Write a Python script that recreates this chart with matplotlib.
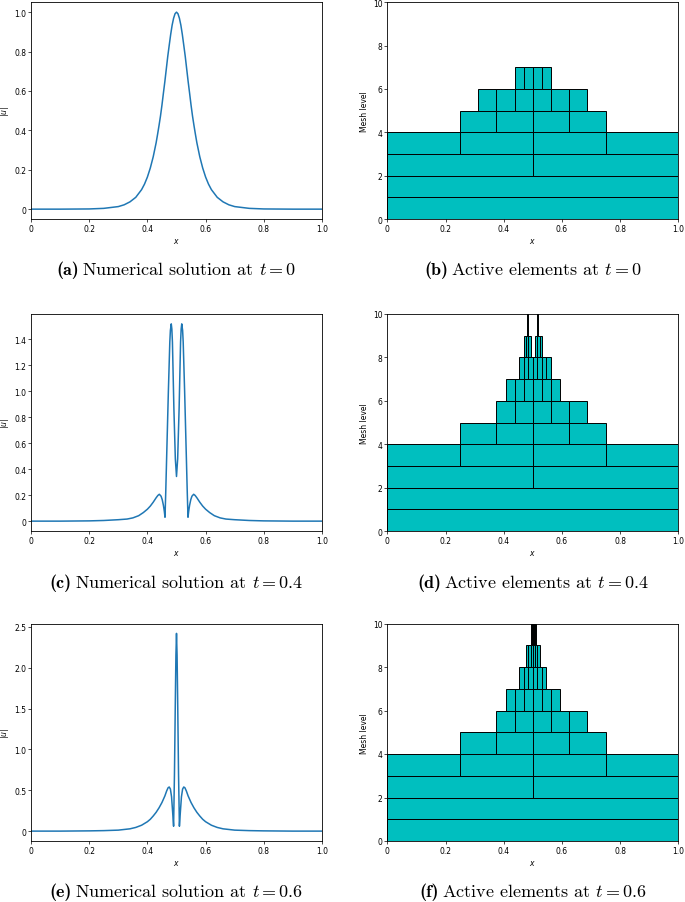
import numpy as np
import matplotlib.pyplot as plt
from matplotlib.ticker import FuncFormatter

# |u|
x_t0 = [0.0, 0.1, 0.2, 0.25, 0.3, 0.32, 0.34, 0.36, 0.38, 0.39, 0.40, 0.41, 0.42, 0.43, 0.435,
        0.44, 0.445, 0.45, 0.455, 0.46, 0.465, 0.47, 0.475, 0.48, 0.485, 0.49, 0.495, 0.5,
        0.505, 0.51, 0.515, 0.52, 0.525, 0.53, 0.535, 0.54, 0.545, 0.55, 0.555, 0.56, 0.565,
        0.57, 0.58, 0.59, 0.60, 0.61, 0.62, 0.64, 0.66, 0.68, 0.70, 0.75, 0.8, 0.9, 1.0]
u_t0 = [0.0, 0.0, 0.001, 0.004, 0.013, 0.022, 0.037, 0.060, 0.099, 0.127, 0.163, 0.209, 0.266, 0.337, 0.380,
        0.425, 0.473, 0.528, 0.589, 0.648, 0.712, 0.776, 0.832, 0.887, 0.934, 0.969, 0.992, 1.0,
        0.992, 0.969, 0.934, 0.887, 0.832, 0.776, 0.712, 0.648, 0.589, 0.528, 0.473, 0.425, 0.380,
        0.337, 0.266, 0.209, 0.163, 0.127, 0.099, 0.060, 0.037, 0.022, 0.013, 0.004, 0.001, 0.0, 0.0]

x_t04 = [0.0, 0.1, 0.2, 0.25, 0.3, 0.33, 0.35, 0.37, 0.386, 0.40, 0.41, 0.42, 0.43, 0.436, 0.441,
         0.447, 0.451, 0.455, 0.458, 0.4605, 0.463, 0.466, 0.472, 0.477, 0.479, 0.482, 0.484, 0.486,
         0.491, 0.496, 0.5,
         0.504, 0.509, 0.514, 0.516, 0.518, 0.521, 0.523, 0.528, 0.534, 0.537, 0.5395, 0.542, 0.545,
         0.549, 0.553, 0.559, 0.564, 0.57, 0.58, 0.59, 0.60, 0.614, 0.63, 0.65, 0.67, 0.70, 0.75,
         0.8, 0.9, 1.0]
u_t04 = [0.0, 0.0, 0.002, 0.005, 0.011, 0.016, 0.025, 0.042, 0.066, 0.092, 0.116, 0.146, 0.180, 0.198, 0.207,
         0.192, 0.165, 0.122, 0.078, 0.03, 0.22, 0.48, 0.995, 1.38, 1.47, 1.52, 1.48, 1.38,
         0.87, 0.48, 0.344,
         0.48, 0.87, 1.38, 1.48, 1.52, 1.47, 1.38, 0.995, 0.48, 0.22, 0.03, 0.078, 0.122,
         0.165, 0.192, 0.207, 0.198, 0.180, 0.146, 0.116, 0.092, 0.066, 0.042, 0.025, 0.016, 0.011, 0.005,
         0.002, 0.0, 0.0]

x_t06 = [0.0, 0.1, 0.2, 0.25, 0.3, 0.34, 0.36, 0.38, 0.40, 0.41, 0.42, 0.43, 0.44, 0.45, 0.46,
         0.466, 0.471, 0.475, 0.479, 0.483, 0.487, 0.490, 0.493, 0.496, 0.498, 0.5,
         0.502, 0.504, 0.507, 0.510, 0.513, 0.517, 0.521, 0.525, 0.529, 0.534, 0.54, 0.55, 0.56,
         0.57, 0.58, 0.59, 0.60, 0.62, 0.64, 0.66, 0.70, 0.75, 0.8, 0.9, 1.0]
u_t06 = [0.0, 0.0, 0.003, 0.006, 0.012, 0.028, 0.045, 0.072, 0.115, 0.145, 0.185, 0.23, 0.285, 0.35, 0.43,
         0.49, 0.53, 0.54, 0.515, 0.42, 0.22, 0.06, 0.70, 1.60, 2.15, 2.42,
         2.15, 1.60, 0.70, 0.06, 0.22, 0.42, 0.515, 0.54, 0.53, 0.49, 0.43, 0.35, 0.285,
         0.23, 0.185, 0.145, 0.115, 0.072, 0.045, 0.028, 0.012, 0.006, 0.003, 0.0, 0.0]

# active elements: (band, first index, count); band k has width 2**-(k-1), band 0 width 1
mesh_t0 = [(0, 0, 1), (1, 0, 1), (2, 0, 2), (3, 0, 4), (4, 2, 4), (5, 5, 6), (6, 14, 4)]
mesh_t04 = [(0, 0, 1), (1, 0, 1), (2, 0, 2), (3, 0, 4), (4, 2, 4), (5, 6, 5), (6, 13, 6),
            (7, 29, 7), (8, 60, 3), (8, 65, 3), (9, 123, 1), (9, 132, 1)]
mesh_t06 = [(0, 0, 1), (1, 0, 1), (2, 0, 2), (3, 0, 4), (4, 2, 4), (5, 6, 5), (6, 13, 6),
            (7, 29, 6), (8, 61, 6), (9, 126, 5)]

tags_left = ['(a)', '(c)', '(e)']
tags_right = ['(b)', '(d)', '(f)']
times = ['0', '0.4', '0.6']

W, H = 685, 903
fig = plt.figure(figsize=(W / 100, H / 100), dpi=100)
renderer = fig.canvas.get_renderer()

def px_axes(x0, y0, x1, y1):
    return fig.add_axes([x0 / W, 1 - y1 / H, (x1 - x0) / W, (y1 - y0) / H])

def zero_fmt(v, pos):
    if abs(v) < 1e-12:
        return '0'
    return f'{v:.1f}'

def style(ax):
    ax.tick_params(labelsize=5.5, length=2, width=0.5, pad=1.5)
    for s in ax.spines.values():
        s.set_linewidth(0.6)
    ax.set_xlim(0, 1)
    ax.xaxis.set_major_formatter(FuncFormatter(zero_fmt))
    ax.set_xlabel('$x$', fontsize=5.5, labelpad=2)

def caption(xc, yc, tag, rest, fs=13):
    # bold tag + roman text, centred together under the panel
    t1 = fig.text(0, 1 - yc / H, tag, fontname='cmb10', fontsize=fs, va='center', ha='left')
    t2 = fig.text(0, 1 - yc / H, rest, fontname='cmr10', math_fontfamily='cm',
                  fontsize=fs, va='center', ha='left')
    w1 = t1.get_window_extent(renderer).width
    w2 = t2.get_window_extent(renderer).width
    gap = 3
    x0 = xc - (w1 + gap + w2) / 2
    t1.set_x(x0 / W)
    t2.set_x((x0 + w1 + gap) / W)

rows = [(3.3, 220), (315, 532), (624.5, 842)]
cap_y = [270, 583, 892]
curves = [(x_t0, u_t0), (x_t04, u_t04), (x_t06, u_t06)]
meshes = [mesh_t0, mesh_t04, mesh_t06]

for r in range(3):
    y0, y1 = rows[r]

    ax = px_axes(31, y0, 322, y1)
    xs, us = curves[r]
    ax.plot(xs, us, color='#1f77b4', lw=1.1)
    style(ax)
    ax.yaxis.set_major_formatter(FuncFormatter(zero_fmt))
    ax.set_ylabel('$|u|$', fontsize=5.5, labelpad=2)

    axm = px_axes(387.3, y0, 678.3, y1)
    for band, i0, n in meshes[r]:
        h = 1.0 if band == 0 else 0.5 ** (band - 1)
        lefts = np.arange(i0, i0 + n) * h
        axm.bar(lefts, 1, width=h, bottom=band, align='edge',
                color='c', edgecolor='k', linewidth=0.7)
    style(axm)
    axm.set_ylim(0, 10)
    axm.set_yticks([0, 2, 4, 6, 8, 10])
    axm.set_ylabel('Mesh level', fontsize=5.5, labelpad=3)

    caption(176.5, cap_y[r], tags_left[r], 'Numerical solution at $t = ' + times[r] + '$')
    caption(532.8, cap_y[r], tags_right[r], 'Active elements at $t = ' + times[r] + '$')

fig.savefig('out.png', dpi=100)
